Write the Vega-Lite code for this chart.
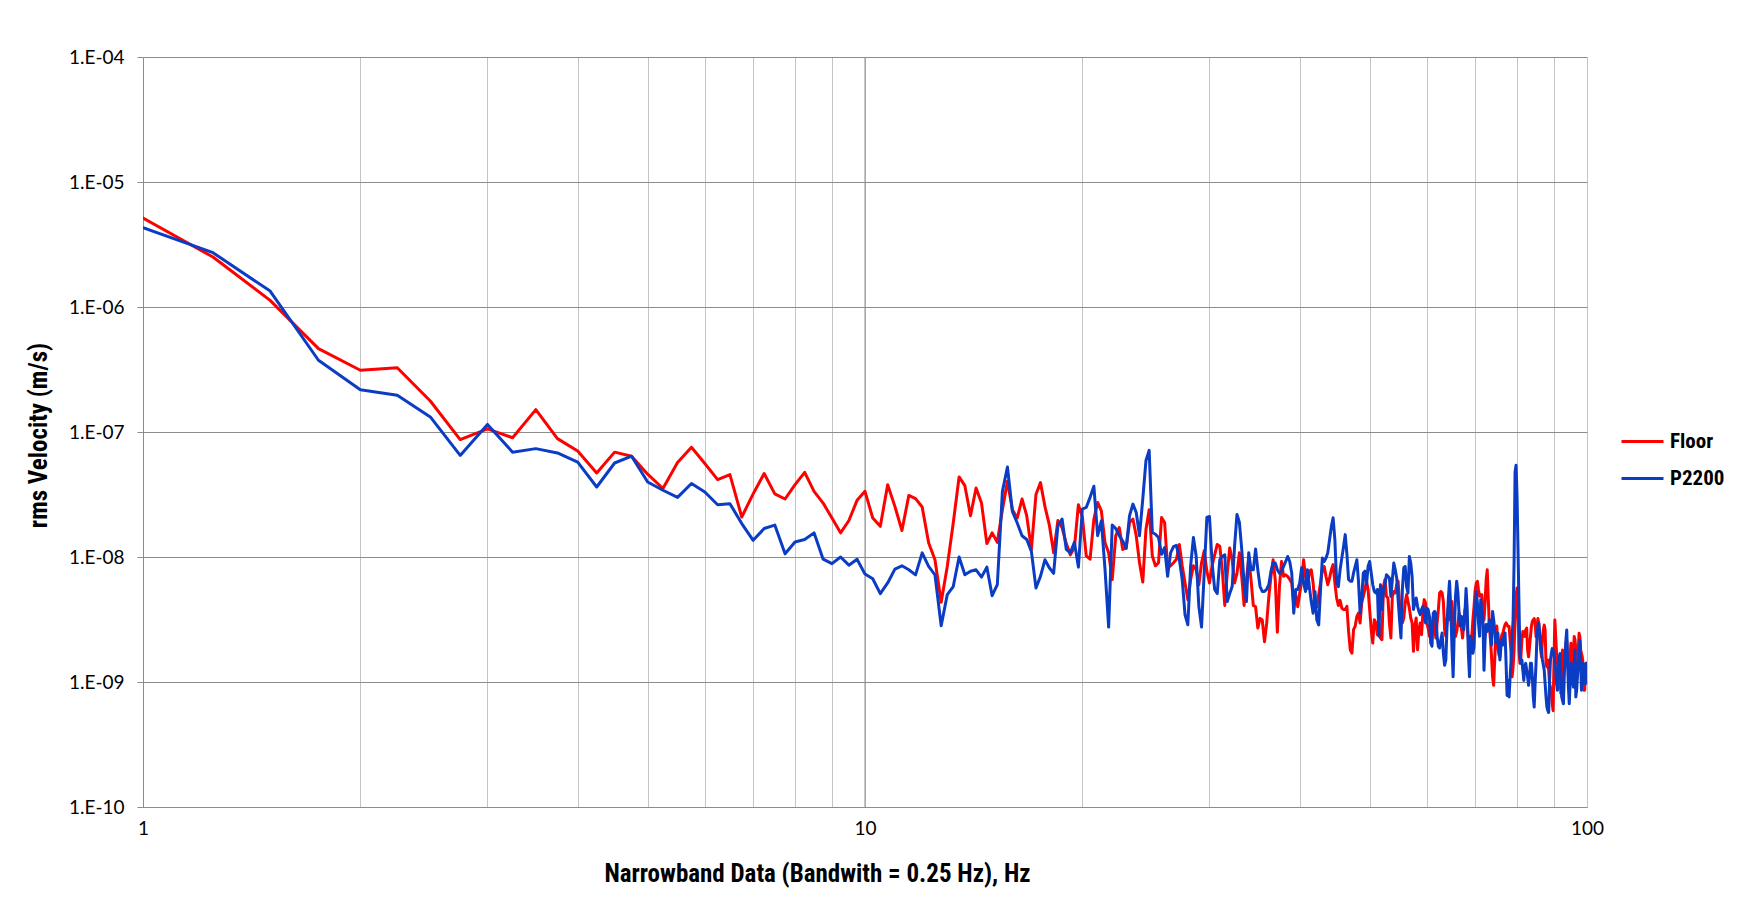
{
"$schema":"https://vega.github.io/schema/vega-lite/v6.json",
"width":1444,"height":750,
"autosize":{"type":"none"},
"padding":{"left":143,"top":57,"right":151,"bottom":115},
"background":"white",
"config":{"view":{"stroke":null},"font":"Lato"},
"layer":[
{"data":{"values":[{"g":10}]},
 "mark":{"type":"rule","color":"#8c8c8c","strokeWidth":1},
 "encoding":{"x":{"field":"g","type":"quantitative","scale":{"type":"log","domain":[1,100],"nice":false}}}},
{"data":{"values":[
{"f":1,"Floor":5.15e-6,"P2200":4.31e-6},
{"f":1.25,"Floor":2.51e-6,"P2200":2.72e-6},
{"f":1.5,"Floor":1.13e-6,"P2200":1.34e-6},
{"f":1.75,"Floor":4.65e-7,"P2200":3.75e-7},
{"f":2,"Floor":3.12e-7,"P2200":2.18e-7},
{"f":2.25,"Floor":3.27e-7,"P2200":1.97e-7},
{"f":2.5,"Floor":1.77e-7,"P2200":1.32e-7},
{"f":2.75,"Floor":8.7e-8,"P2200":6.5e-8},
{"f":3,"Floor":1.06e-7,"P2200":1.15e-7},
{"f":3.25,"Floor":9.0e-8,"P2200":6.9e-8},
{"f":3.5,"Floor":1.51e-7,"P2200":7.36e-8},
{"f":3.75,"Floor":8.85e-8,"P2200":6.8e-8},
{"f":4,"Floor":7.05e-8,"P2200":5.75e-8},
{"f":4.25,"Floor":4.7e-8,"P2200":3.63e-8},
{"f":4.5,"Floor":6.9e-8,"P2200":5.65e-8},
{"f":4.75,"Floor":6.4e-8,"P2200":6.4e-8},
{"f":5,"Floor":4.6e-8,"P2200":3.98e-8},
{"f":5.25,"Floor":3.53e-8,"P2200":3.42e-8},
{"f":5.5,"Floor":5.7e-8,"P2200":3.0e-8},
{"f":5.75,"Floor":7.55e-8,"P2200":3.87e-8},
{"f":6,"Floor":5.6e-8,"P2200":3.31e-8},
{"f":6.25,"Floor":4.16e-8,"P2200":2.62e-8},
{"f":6.5,"Floor":4.56e-8,"P2200":2.67e-8},
{"f":6.75,"Floor":2.09e-8,"P2200":1.85e-8},
{"f":7,"Floor":3.2e-8,"P2200":1.36e-8},
{"f":7.25,"Floor":4.65e-8,"P2200":1.69e-8},
{"f":7.5,"Floor":3.2e-8,"P2200":1.8e-8},
{"f":7.75,"Floor":2.91e-8,"P2200":1.06e-8},
{"f":8,"Floor":3.79e-8,"P2200":1.32e-8},
{"f":8.25,"Floor":4.76e-8,"P2200":1.38e-8},
{"f":8.5,"Floor":3.35e-8,"P2200":1.56e-8},
{"f":8.75,"Floor":2.7e-8,"P2200":9.6e-9},
{"f":9,"Floor":2.05e-8,"P2200":8.85e-9},
{"f":9.25,"Floor":1.56e-8,"P2200":1.0e-8},
{"f":9.5,"Floor":1.96e-8,"P2200":8.6e-9},
{"f":9.75,"Floor":2.84e-8,"P2200":9.6e-9},
{"f":10,"Floor":3.35e-8,"P2200":7.3e-9},
{"f":10.25,"Floor":2.05e-8,"P2200":6.7e-9},
{"f":10.5,"Floor":1.76e-8,"P2200":5.09e-9},
{"f":10.75,"Floor":3.79e-8,"P2200":6.2e-9},
{"f":11,"Floor":2.54e-8,"P2200":8.0e-9},
{"f":11.25,"Floor":1.63e-8,"P2200":8.5e-9},
{"f":11.5,"Floor":3.11e-8,"P2200":7.9e-9},
{"f":11.75,"Floor":2.93e-8,"P2200":7.2e-9},
{"f":12,"Floor":2.51e-8,"P2200":1.08e-8},
{"f":12.25,"Floor":1.3e-8,"P2200":8.4e-9},
{"f":12.5,"Floor":9.5e-9,"P2200":7.2e-9},
{"f":12.75,"Floor":4.34e-9,"P2200":2.82e-9},
{"f":13,"Floor":8.4e-9,"P2200":5.0e-9},
{"f":13.25,"Floor":1.87e-8,"P2200":5.8e-9},
{"f":13.5,"Floor":4.37e-8,"P2200":1.0e-8},
{"f":13.75,"Floor":3.72e-8,"P2200":7.2e-9},
{"f":14,"Floor":2.14e-8,"P2200":7.7e-9},
{"f":14.25,"Floor":3.56e-8,"P2200":7.9e-9},
{"f":14.5,"Floor":2.7e-8,"P2200":6.9e-9},
{"f":14.75,"Floor":1.28e-8,"P2200":8.3e-9},
{"f":15,"Floor":1.56e-8,"P2200":4.9e-9},
{"f":15.25,"Floor":1.31e-8,"P2200":6.0e-9},
{"f":15.5,"Floor":2.39e-8,"P2200":3.35e-8},
{"f":15.75,"Floor":4.03e-8,"P2200":5.25e-8},
{"f":16,"Floor":2.39e-8,"P2200":2.32e-8},
{"f":16.25,"Floor":2.05e-8,"P2200":1.87e-8},
{"f":16.5,"Floor":2.91e-8,"P2200":1.48e-8},
{"f":16.75,"Floor":2.14e-8,"P2200":1.38e-8},
{"f":17,"Floor":1.15e-8,"P2200":1.11e-8},
{"f":17.25,"Floor":3.16e-8,"P2200":5.65e-9},
{"f":17.5,"Floor":3.94e-8,"P2200":7.0e-9},
{"f":17.75,"Floor":2.54e-8,"P2200":9.5e-9},
{"f":18,"Floor":1.81e-8,"P2200":8.2e-9},
{"f":18.25,"Floor":1.08e-8,"P2200":7.4e-9},
{"f":18.5,"Floor":1.96e-8,"P2200":1.78e-8},
{"f":18.75,"Floor":1.71e-8,"P2200":2.01e-8},
{"f":19,"Floor":1.28e-8,"P2200":1.15e-8},
{"f":19.25,"Floor":1.04e-8,"P2200":1.08e-8},
{"f":19.5,"Floor":1.19e-8,"P2200":1.31e-8},
{"f":19.75,"Floor":2.62e-8,"P2200":8.3e-9},
{"f":20,"Floor":2.1e-8,"P2200":2.42e-8},
{"f":20.25,"Floor":1.02e-8,"P2200":2.49e-8},
{"f":20.5,"Floor":9.6e-9,"P2200":3.0e-8},
{"f":20.75,"Floor":2.01e-8,"P2200":3.68e-8},
{"f":21,"Floor":2.73e-8,"P2200":1.48e-8},
{"f":21.25,"Floor":2.34e-8,"P2200":1.95e-8},
{"f":21.5,"Floor":1.3e-8,"P2200":7.95e-9},
{"f":21.75,"Floor":1.08e-8,"P2200":2.75e-9},
{"f":22,"Floor":6.6e-9,"P2200":1.8e-8},
{"f":22.25,"Floor":1.48e-8,"P2200":1.69e-8},
{"f":22.5,"Floor":1.72e-8,"P2200":1.48e-8},
{"f":22.75,"Floor":1.15e-8,"P2200":1.34e-8},
{"f":23,"Floor":1.19e-8,"P2200":1.17e-8},
{"f":23.25,"Floor":1.89e-8,"P2200":2.14e-8},
{"f":23.5,"Floor":2.01e-8,"P2200":2.65e-8},
{"f":23.75,"Floor":1.48e-8,"P2200":2.27e-8},
{"f":24,"Floor":9.0e-9,"P2200":1.48e-8},
{"f":24.25,"Floor":6.3e-9,"P2200":2.91e-8},
{"f":24.5,"Floor":1.67e-8,"P2200":5.92e-8},
{"f":24.75,"Floor":2.39e-8,"P2200":7.13e-8},
{"f":25,"Floor":1.02e-8,"P2200":1.57e-8},
{"f":25.25,"Floor":8.5e-9,"P2200":1.52e-8},
{"f":25.5,"Floor":9.0e-9,"P2200":1.43e-8},
{"f":25.75,"Floor":2.07e-8,"P2200":1.05e-8},
{"f":26,"Floor":1.89e-8,"P2200":1.19e-8},
{"f":26.25,"Floor":8.2e-9,"P2200":7.0e-9},
{"f":26.5,"Floor":8.5e-9,"P2200":1.08e-8},
{"f":26.75,"Floor":9.0e-9,"P2200":1.21e-8},
{"f":27,"Floor":9.6e-9,"P2200":1.24e-8},
{"f":27.25,"Floor":1.26e-8,"P2200":9.6e-9},
{"f":27.5,"Floor":8.5e-9,"P2200":6.6e-9},
{"f":27.75,"Floor":6.2e-9,"P2200":3.45e-9},
{"f":28,"Floor":4.56e-9,"P2200":2.87e-9},
{"f":28.25,"Floor":6.6e-9,"P2200":8.5e-9},
{"f":28.5,"Floor":8.5e-9,"P2200":1.43e-8},
{"f":28.75,"Floor":7.95e-9,"P2200":1.02e-8},
{"f":29,"Floor":6.0e-9,"P2200":4.03e-9},
{"f":29.25,"Floor":9.0e-9,"P2200":2.75e-9},
{"f":29.5,"Floor":1.12e-8,"P2200":7.5e-9},
{"f":29.75,"Floor":7.7e-9,"P2200":2.07e-8},
{"f":30,"Floor":6.2e-9,"P2200":2.11e-8},
{"f":30.25,"Floor":8.5e-9,"P2200":9.0e-9},
{"f":30.5,"Floor":1.04e-8,"P2200":5.5e-9},
{"f":30.75,"Floor":1.26e-8,"P2200":5.1e-9},
{"f":31,"Floor":1.22e-8,"P2200":9.5e-9},
{"f":31.25,"Floor":7.9e-9,"P2200":1.01e-8},
{"f":31.5,"Floor":4.1e-9,"P2200":1.04e-8},
{"f":31.75,"Floor":7.4e-9,"P2200":4.4e-9},
{"f":32,"Floor":1.18e-8,"P2200":5.1e-9},
{"f":32.25,"Floor":9.5e-9,"P2200":5.8e-9},
{"f":32.5,"Floor":6.2e-9,"P2200":1.22e-8},
{"f":32.75,"Floor":7.4e-9,"P2200":2.19e-8},
{"f":33,"Floor":1.08e-8,"P2200":1.9e-8},
{"f":33.25,"Floor":7.0e-9,"P2200":1.15e-8},
{"f":33.5,"Floor":4.1e-9,"P2200":6.2e-9},
{"f":33.75,"Floor":6.6e-9,"P2200":4.4e-9},
{"f":34,"Floor":9.8e-9,"P2200":1.08e-8},
{"f":34.25,"Floor":6.6e-9,"P2200":7.9e-9},
{"f":34.5,"Floor":4.1e-9,"P2200":7.9e-9},
{"f":34.75,"Floor":4.0e-9,"P2200":1.16e-8},
{"f":35,"Floor":2.7e-9,"P2200":7.9e-9},
{"f":35.25,"Floor":3.23e-9,"P2200":5.8e-9},
{"f":35.5,"Floor":3.13e-9,"P2200":5.3e-9},
{"f":35.75,"Floor":2.1e-9,"P2200":5.3e-9},
{"f":36,"Floor":2.94e-9,"P2200":5.5e-9},
{"f":36.25,"Floor":4.8e-9,"P2200":6.0e-9},
{"f":36.5,"Floor":7.0e-9,"P2200":7.7e-9},
{"f":36.75,"Floor":9.5e-9,"P2200":8.95e-9},
{"f":37,"Floor":6.6e-9,"P2200":8.95e-9},
{"f":37.25,"Floor":2.5e-9,"P2200":7.9e-9},
{"f":37.5,"Floor":5.8e-9,"P2200":7.4e-9},
{"f":37.75,"Floor":9.2e-9,"P2200":7.7e-9},
{"f":38,"Floor":7.0e-9,"P2200":8.4e-9},
{"f":38.25,"Floor":7.2e-9,"P2200":9.2e-9},
{"f":38.5,"Floor":7.0e-9,"P2200":1.01e-8},
{"f":38.75,"Floor":6.6e-9,"P2200":9.2e-9},
{"f":39,"Floor":6.2e-9,"P2200":7.4e-9},
{"f":39.25,"Floor":4.1e-9,"P2200":3.55e-9},
{"f":39.5,"Floor":5.0e-9,"P2200":5.5e-9},
{"f":39.75,"Floor":4.0e-9,"P2200":5.5e-9},
{"f":40,"Floor":5.1e-9,"P2200":6.2e-9},
{"f":40.25,"Floor":6.4e-9,"P2200":8.2e-9},
{"f":40.5,"Floor":9.5e-9,"P2200":6.2e-9},
{"f":40.75,"Floor":7.0e-9,"P2200":5.3e-9},
{"f":41,"Floor":5.6e-9,"P2200":7.9e-9},
{"f":41.25,"Floor":7.7e-9,"P2200":5.8e-9},
{"f":41.5,"Floor":7.9e-9,"P2200":4.4e-9},
{"f":41.75,"Floor":6.2e-9,"P2200":3.55e-9},
{"f":42,"Floor":4.0e-9,"P2200":5.3e-9},
{"f":42.25,"Floor":4.0e-9,"P2200":3.13e-9},
{"f":42.5,"Floor":5.0e-9,"P2200":2.86e-9},
{"f":42.75,"Floor":6.2e-9,"P2200":5.5e-9},
{"f":43,"Floor":7.9e-9,"P2200":9.8e-9},
{"f":43.25,"Floor":8.4e-9,"P2200":9.2e-9},
{"f":43.5,"Floor":7.0e-9,"P2200":9.8e-9},
{"f":43.75,"Floor":6.0e-9,"P2200":1.08e-8},
{"f":44,"Floor":6.8e-9,"P2200":1.38e-8},
{"f":44.25,"Floor":7.9e-9,"P2200":1.75e-8},
{"f":44.5,"Floor":8.7e-9,"P2200":2.06e-8},
{"f":44.75,"Floor":6.2e-9,"P2200":1.38e-8},
{"f":45,"Floor":4.7e-9,"P2200":6.2e-9},
{"f":45.25,"Floor":4.1e-9,"P2200":5.8e-9},
{"f":45.5,"Floor":4.5e-9,"P2200":7.9e-9},
{"f":45.75,"Floor":3.9e-9,"P2200":9.8e-9},
{"f":46,"Floor":3.8e-9,"P2200":1.2e-8},
{"f":46.25,"Floor":3.8e-9,"P2200":1.51e-8},
{"f":46.5,"Floor":4.03e-9,"P2200":1.06e-8},
{"f":46.75,"Floor":2.54e-9,"P2200":6.6e-9},
{"f":47,"Floor":1.81e-9,"P2200":6.4e-9},
{"f":47.25,"Floor":1.7e-9,"P2200":6.4e-9},
{"f":47.5,"Floor":2.62e-9,"P2200":7.45e-9},
{"f":47.75,"Floor":2.8e-9,"P2200":8.4e-9},
{"f":48,"Floor":3.35e-9,"P2200":9.5e-9},
{"f":48.25,"Floor":3.56e-9,"P2200":6.4e-9},
{"f":48.5,"Floor":2.97e-9,"P2200":3.56e-9},
{"f":48.75,"Floor":4.3e-9,"P2200":4.7e-9},
{"f":49,"Floor":4.85e-9,"P2200":7.45e-9},
{"f":49.25,"Floor":5.5e-9,"P2200":7.7e-9},
{"f":49.5,"Floor":6.4e-9,"P2200":6.0e-9},
{"f":49.75,"Floor":5.5e-9,"P2200":8.4e-9},
{"f":50,"Floor":3.8e-9,"P2200":9.2e-9},
{"f":50.25,"Floor":2.62e-9,"P2200":7.45e-9},
{"f":50.5,"Floor":2.05e-9,"P2200":6.0e-9},
{"f":50.75,"Floor":3.15e-9,"P2200":5.3e-9},
{"f":51,"Floor":2.97e-9,"P2200":5.15e-9},
{"f":51.25,"Floor":2.39e-9,"P2200":5.5e-9},
{"f":51.5,"Floor":2.97e-9,"P2200":2.32e-9},
{"f":51.75,"Floor":2.25e-9,"P2200":6.0e-9},
{"f":52,"Floor":2.18e-9,"P2200":3.8e-9},
{"f":52.25,"Floor":5.8e-9,"P2200":5.5e-9},
{"f":52.5,"Floor":6.6e-9,"P2200":6.0e-9},
{"f":52.75,"Floor":4.85e-9,"P2200":7.2e-9},
{"f":53,"Floor":4.7e-9,"P2200":7.0e-9},
{"f":53.25,"Floor":2.97e-9,"P2200":6.8e-9},
{"f":53.5,"Floor":2.25e-9,"P2200":4.85e-9},
{"f":53.75,"Floor":4.85e-9,"P2200":6.6e-9},
{"f":54,"Floor":5.3e-9,"P2200":8.95e-9},
{"f":54.25,"Floor":5.15e-9,"P2200":7.9e-9},
{"f":54.5,"Floor":6.0e-9,"P2200":6.8e-9},
{"f":54.75,"Floor":6.4e-9,"P2200":4.56e-9},
{"f":55,"Floor":4.3e-9,"P2200":3.15e-9},
{"f":55.25,"Floor":3.35e-9,"P2200":2.25e-9},
{"f":55.5,"Floor":2.97e-9,"P2200":5.5e-9},
{"f":55.75,"Floor":3.25e-9,"P2200":8.2e-9},
{"f":56,"Floor":4.3e-9,"P2200":8.4e-9},
{"f":56.25,"Floor":5.0e-9,"P2200":5.8e-9},
{"f":56.5,"Floor":4.4e-9,"P2200":5.15e-9},
{"f":56.75,"Floor":3.9e-9,"P2200":1.01e-8},
{"f":57,"Floor":3.25e-9,"P2200":8.95e-9},
{"f":57.25,"Floor":2.97e-9,"P2200":7.0e-9},
{"f":57.5,"Floor":1.76e-9,"P2200":3.8e-9},
{"f":57.75,"Floor":2.8e-9,"P2200":4.3e-9},
{"f":58,"Floor":3.25e-9,"P2200":4.7e-9},
{"f":58.25,"Floor":1.81e-9,"P2200":4.03e-9},
{"f":58.5,"Floor":2.62e-9,"P2200":3.67e-9},
{"f":58.75,"Floor":2.97e-9,"P2200":3.46e-9},
{"f":59,"Floor":2.39e-9,"P2200":3.8e-9},
{"f":59.25,"Floor":3.56e-9,"P2200":4.03e-9},
{"f":59.5,"Floor":4.56e-9,"P2200":3.56e-9},
{"f":59.75,"Floor":4.3e-9,"P2200":2.97e-9},
{"f":60,"Floor":2.97e-9,"P2200":3.9e-9},
{"f":60.25,"Floor":2.7e-9,"P2200":3.8e-9},
{"f":60.5,"Floor":2.32e-9,"P2200":3.35e-9},
{"f":60.75,"Floor":2.4e-9,"P2200":2.05e-9},
{"f":61,"Floor":2.88e-9,"P2200":1.93e-9},
{"f":61.25,"Floor":3.35e-9,"P2200":3.56e-9},
{"f":61.5,"Floor":2.8e-9,"P2200":3.67e-9},
{"f":61.75,"Floor":2.25e-9,"P2200":3.56e-9},
{"f":62,"Floor":2.97e-9,"P2200":2.32e-9},
{"f":62.25,"Floor":3.8e-9,"P2200":1.93e-9},
{"f":62.5,"Floor":5.15e-9,"P2200":1.87e-9},
{"f":62.75,"Floor":5.3e-9,"P2200":2.18e-9},
{"f":63,"Floor":5.15e-9,"P2200":2.47e-9},
{"f":63.25,"Floor":4.4e-9,"P2200":1.7e-9},
{"f":63.5,"Floor":2.62e-9,"P2200":1.36e-9},
{"f":63.75,"Floor":2.32e-9,"P2200":1.5e-9},
{"f":64,"Floor":3.15e-9,"P2200":2.8e-9},
{"f":64.25,"Floor":4.03e-9,"P2200":4.56e-9},
{"f":64.5,"Floor":3.15e-9,"P2200":6.4e-9},
{"f":64.75,"Floor":3.56e-9,"P2200":4.03e-9},
{"f":65,"Floor":4.4e-9,"P2200":1.93e-9},
{"f":65.25,"Floor":2.97e-9,"P2200":1.1e-9},
{"f":65.5,"Floor":2.47e-9,"P2200":2.62e-9},
{"f":65.75,"Floor":2.32e-9,"P2200":4.85e-9},
{"f":66,"Floor":2.54e-9,"P2200":6.4e-9},
{"f":66.25,"Floor":2.97e-9,"P2200":5.15e-9},
{"f":66.5,"Floor":3.56e-9,"P2200":3.56e-9},
{"f":66.75,"Floor":3.15e-9,"P2200":2.8e-9},
{"f":67,"Floor":2.7e-9,"P2200":3.35e-9},
{"f":67.25,"Floor":2.25e-9,"P2200":3.15e-9},
{"f":67.5,"Floor":2.97e-9,"P2200":2.62e-9},
{"f":67.75,"Floor":3.8e-9,"P2200":3.56e-9},
{"f":68,"Floor":3.67e-9,"P2200":5.6e-9},
{"f":68.25,"Floor":2.8e-9,"P2200":3.8e-9},
{"f":68.5,"Floor":2.18e-9,"P2200":1.7e-9},
{"f":68.75,"Floor":1.93e-9,"P2200":1.1e-9},
{"f":69,"Floor":1.87e-9,"P2200":2.32e-9},
{"f":69.25,"Floor":2.32e-9,"P2200":1.93e-9},
{"f":69.5,"Floor":3.15e-9,"P2200":1.7e-9},
{"f":69.75,"Floor":4.03e-9,"P2200":1.93e-9},
{"f":70,"Floor":5.45e-9,"P2200":3.56e-9},
{"f":70.25,"Floor":6.2e-9,"P2200":5.3e-9},
{"f":70.5,"Floor":6.4e-9,"P2200":4.3e-9},
{"f":70.75,"Floor":5.45e-9,"P2200":2.97e-9},
{"f":71,"Floor":4.85e-9,"P2200":2.32e-9},
{"f":71.25,"Floor":5.0e-9,"P2200":4.56e-9},
{"f":71.5,"Floor":5.0e-9,"P2200":3.8e-9},
{"f":71.75,"Floor":3.56e-9,"P2200":3.35e-9},
{"f":72,"Floor":3.15e-9,"P2200":1.24e-9},
{"f":72.25,"Floor":4.3e-9,"P2200":2.18e-9},
{"f":72.5,"Floor":6.6e-9,"P2200":2.88e-9},
{"f":72.75,"Floor":7.9e-9,"P2200":2.54e-9},
{"f":73,"Floor":4.56e-9,"P2200":2.7e-9},
{"f":73.25,"Floor":2.8e-9,"P2200":3.15e-9},
{"f":73.5,"Floor":2.18e-9,"P2200":2.47e-9},
{"f":73.75,"Floor":1.6e-9,"P2200":1.98e-9},
{"f":74,"Floor":1.1e-9,"P2200":3.67e-9},
{"f":74.25,"Floor":9.4e-10,"P2200":3.15e-9},
{"f":74.5,"Floor":1.5e-9,"P2200":2.62e-9},
{"f":74.75,"Floor":2.47e-9,"P2200":2.05e-9},
{"f":75,"Floor":2.8e-9,"P2200":2.18e-9},
{"f":75.25,"Floor":1.93e-9,"P2200":2.47e-9},
{"f":75.5,"Floor":1.65e-9,"P2200":1.93e-9},
{"f":75.75,"Floor":1.6e-9,"P2200":1.5e-9},
{"f":76,"Floor":2.18e-9,"P2200":1.93e-9},
{"f":76.25,"Floor":2.4e-9,"P2200":2.18e-9},
{"f":76.5,"Floor":2.47e-9,"P2200":1.98e-9},
{"f":76.75,"Floor":2.7e-9,"P2200":2.32e-9},
{"f":77,"Floor":2.88e-9,"P2200":2.47e-9},
{"f":77.25,"Floor":2.97e-9,"P2200":1.42e-9},
{"f":77.5,"Floor":2.88e-9,"P2200":7.8e-10},
{"f":77.75,"Floor":2.78e-9,"P2200":1.03e-9},
{"f":78,"Floor":2.78e-9,"P2200":7.6e-10},
{"f":78.25,"Floor":2.17e-9,"P2200":1.1e-9},
{"f":78.5,"Floor":1.69e-9,"P2200":1.5e-9},
{"f":78.75,"Floor":1.1e-9,"P2200":2.31e-9},
{"f":79,"Floor":1.32e-9,"P2200":3.14e-9},
{"f":79.25,"Floor":1.8e-9,"P2200":9.0e-9},
{"f":79.5,"Floor":3.14e-9,"P2200":4.79e-8},
{"f":79.75,"Floor":4.85e-9,"P2200":5.42e-8},
{"f":80,"Floor":5.65e-9,"P2200":3.1e-8},
{"f":80.25,"Floor":3.78e-9,"P2200":1.15e-8},
{"f":80.5,"Floor":1.8e-9,"P2200":4.2e-9},
{"f":80.75,"Floor":1.41e-9,"P2200":1.59e-9},
{"f":81,"Floor":1.59e-9,"P2200":1.41e-9},
{"f":81.25,"Floor":2.17e-9,"P2200":1.5e-9},
{"f":81.5,"Floor":2.53e-9,"P2200":1.24e-9},
{"f":81.75,"Floor":2.38e-9,"P2200":1.03e-9},
{"f":82,"Floor":2.31e-9,"P2200":1.32e-9},
{"f":82.25,"Floor":2.61e-9,"P2200":1.41e-9},
{"f":82.5,"Floor":2.7e-9,"P2200":1.24e-9},
{"f":82.75,"Floor":1.8e-9,"P2200":1.1e-9},
{"f":83,"Floor":1.59e-9,"P2200":9.4e-10},
{"f":83.25,"Floor":1.91e-9,"P2200":1.1e-9},
{"f":83.5,"Floor":2.31e-9,"P2200":1.41e-9},
{"f":83.75,"Floor":2.78e-9,"P2200":1.41e-9},
{"f":84,"Floor":3.05e-9,"P2200":1.1e-9},
{"f":84.25,"Floor":3.14e-9,"P2200":7.6e-10},
{"f":84.5,"Floor":3.22e-9,"P2200":6.3e-10},
{"f":84.75,"Floor":2.95e-9,"P2200":9.7e-10},
{"f":85,"Floor":2.31e-9,"P2200":1.41e-9},
{"f":85.25,"Floor":2.61e-9,"P2200":2.31e-9},
{"f":85.5,"Floor":3.22e-9,"P2200":2.78e-9},
{"f":85.75,"Floor":2.95e-9,"P2200":2.95e-9},
{"f":86,"Floor":2.31e-9,"P2200":2.45e-9},
{"f":86.25,"Floor":1.8e-9,"P2200":2.04e-9},
{"f":86.5,"Floor":1.59e-9,"P2200":1.8e-9},
{"f":86.75,"Floor":2.17e-9,"P2200":1.5e-9},
{"f":87,"Floor":2.61e-9,"P2200":1.37e-9},
{"f":87.25,"Floor":2.86e-9,"P2200":1.24e-9},
{"f":87.5,"Floor":2.61e-9,"P2200":9.7e-10},
{"f":87.75,"Floor":1.41e-9,"P2200":7.6e-10},
{"f":88,"Floor":1.32e-9,"P2200":6.3e-10},
{"f":88.25,"Floor":1.5e-9,"P2200":5.9e-10},
{"f":88.5,"Floor":1.24e-9,"P2200":5.7e-10},
{"f":88.75,"Floor":9.7e-10,"P2200":1.03e-9},
{"f":89,"Floor":9.1e-10,"P2200":1.5e-9},
{"f":89.25,"Floor":8.1e-10,"P2200":1.69e-9},
{"f":89.5,"Floor":6.7e-10,"P2200":1.85e-9},
{"f":89.75,"Floor":5.9e-10,"P2200":1.8e-9},
{"f":90,"Floor":1.41e-9,"P2200":1.69e-9},
{"f":90.25,"Floor":3.14e-9,"P2200":1.41e-9},
{"f":90.5,"Floor":2.31e-9,"P2200":1.28e-9},
{"f":90.75,"Floor":1.69e-9,"P2200":9.7e-10},
{"f":91,"Floor":1.41e-9,"P2200":8.6e-10},
{"f":91.25,"Floor":1.32e-9,"P2200":1.24e-9},
{"f":91.5,"Floor":1.1e-9,"P2200":1.59e-9},
{"f":91.75,"Floor":1.03e-9,"P2200":1.69e-9},
{"f":92,"Floor":8.1e-10,"P2200":1.17e-9},
{"f":92.25,"Floor":1.1e-9,"P2200":7.6e-10},
{"f":92.5,"Floor":1.8e-9,"P2200":7.1e-10},
{"f":92.75,"Floor":1.59e-9,"P2200":6.7e-10},
{"f":93,"Floor":1.24e-9,"P2200":1.1e-9},
{"f":93.25,"Floor":1.41e-9,"P2200":1.59e-9},
{"f":93.5,"Floor":2.04e-9,"P2200":2.17e-9},
{"f":93.75,"Floor":2.17e-9,"P2200":2.61e-9},
{"f":94,"Floor":1.59e-9,"P2200":1.41e-9},
{"f":94.25,"Floor":1.45e-9,"P2200":9.1e-10},
{"f":94.5,"Floor":1.32e-9,"P2200":6.7e-10},
{"f":94.75,"Floor":1.59e-9,"P2200":9.7e-10},
{"f":95,"Floor":2.04e-9,"P2200":1.41e-9},
{"f":95.25,"Floor":1.8e-9,"P2200":1.17e-9},
{"f":95.5,"Floor":1.41e-9,"P2200":1.03e-9},
{"f":95.75,"Floor":1.59e-9,"P2200":9.1e-10},
{"f":96,"Floor":2.31e-9,"P2200":1.41e-9},
{"f":96.25,"Floor":2.17e-9,"P2200":1.8e-9},
{"f":96.5,"Floor":1.8e-9,"P2200":7.6e-10},
{"f":96.75,"Floor":1.59e-9,"P2200":8.6e-10},
{"f":97,"Floor":1.41e-9,"P2200":1.1e-9},
{"f":97.25,"Floor":1.8e-9,"P2200":1.41e-9},
{"f":97.5,"Floor":2.45e-9,"P2200":1.5e-9},
{"f":97.75,"Floor":2.31e-9,"P2200":2.17e-9},
{"f":98,"Floor":1.8e-9,"P2200":1.41e-9},
{"f":98.25,"Floor":1.69e-9,"P2200":8.6e-10},
{"f":98.5,"Floor":1.59e-9,"P2200":1.24e-9},
{"f":98.75,"Floor":1.41e-9,"P2200":1.41e-9},
{"f":99,"Floor":8.6e-10,"P2200":1.03e-9},
{"f":99.25,"Floor":8.6e-10,"P2200":9.7e-10},
{"f":99.5,"Floor":1.24e-9,"P2200":9.7e-10},
{"f":99.75,"Floor":1.41e-9,"P2200":1.41e-9},
{"f":100,"Floor":1.1e-9,"P2200":1.17e-9}
]},
 "transform":[{"fold":["Floor","P2200"],"as":["series","velocity"]}],
 "mark":{"type":"line","strokeWidth":3,"strokeJoin":"round","strokeCap":"round","clip":true},
 "encoding":{
  "x":{"field":"f","type":"quantitative",
   "scale":{"type":"log","domain":[1,100],"nice":false},
   "axis":{"values":[1,2,3,4,5,6,7,8,9,10,20,30,40,50,60,70,80,90,100],
    "labelExpr":"datum.value == 1 || datum.value == 10 || datum.value == 100 ? format(datum.value, 'd') : ''",
    "grid":true,"gridColor":"#c4c4c4","gridWidth":1,
    "domain":true,"domainColor":"#8c8c8c","ticks":false,
    "labelFont":"Lato","labelFontSize":19,"labelColor":"#000000","labelPadding":12,"labelFlush":false,"labelOverlap":false,
    "title":"Narrowband Data (Bandwith = 0.25 Hz), Hz",
    "titleFont":"Roboto Condensed, Noto Sans Condensed, Liberation Sans Narrow, Arial Narrow, Roboto","titleFontSize":25,"titleFontWeight":"bold","titleColor":"#000000",
    "titleX":674,"titleY":66,"titleAlign":"center","titleBaseline":"middle"}},
  "y":{"field":"velocity","type":"quantitative",
   "scale":{"type":"log","domain":[1e-10,1e-4],"nice":false},
   "axis":{"values":[1e-10,1e-9,1e-8,1e-7,1e-6,1e-5,1e-4],
    "labelExpr":"'1.E-' + (round(-log(datum.value)/LN10) < 10 ? '0' : '') + round(-log(datum.value)/LN10)",
    "grid":true,"gridColor":"#8c8c8c","gridWidth":1,
    "domain":true,"domainColor":"#8c8c8c","ticks":true,"tickColor":"#8c8c8c","tickSize":6,
    "labelFont":"Lato","labelFontSize":19,"labelColor":"#000000","labelPadding":13,"labelFlush":false,
    "title":"rms Velocity (m/s)",
    "titleFont":"Roboto Condensed, Noto Sans Condensed, Liberation Sans Narrow, Arial Narrow, Roboto","titleFontSize":25,"titleFontWeight":"bold","titleColor":"#000000",
    "titleX":-105,"titleY":378,"titleAlign":"center","titleBaseline":"middle","titleAngle":-90}},
  "color":{"field":"series","type":"nominal",
   "scale":{"domain":["Floor","P2200"],"range":["#ff0000","#0b3cc4"]},
   "legend":{"title":null,"orient":"none","legendX":1477,"legendY":362,
    "symbolType":"stroke","symbolSize":1764,"symbolStrokeWidth":3,
    "labelFont":"Roboto Condensed, Noto Sans Condensed, Liberation Sans Narrow, Arial Narrow, Roboto","labelFontSize":21,"labelFontWeight":"bold","labelColor":"#000000",
    "labelOffset":5,"rowPadding":4}}
 }}
]
}
